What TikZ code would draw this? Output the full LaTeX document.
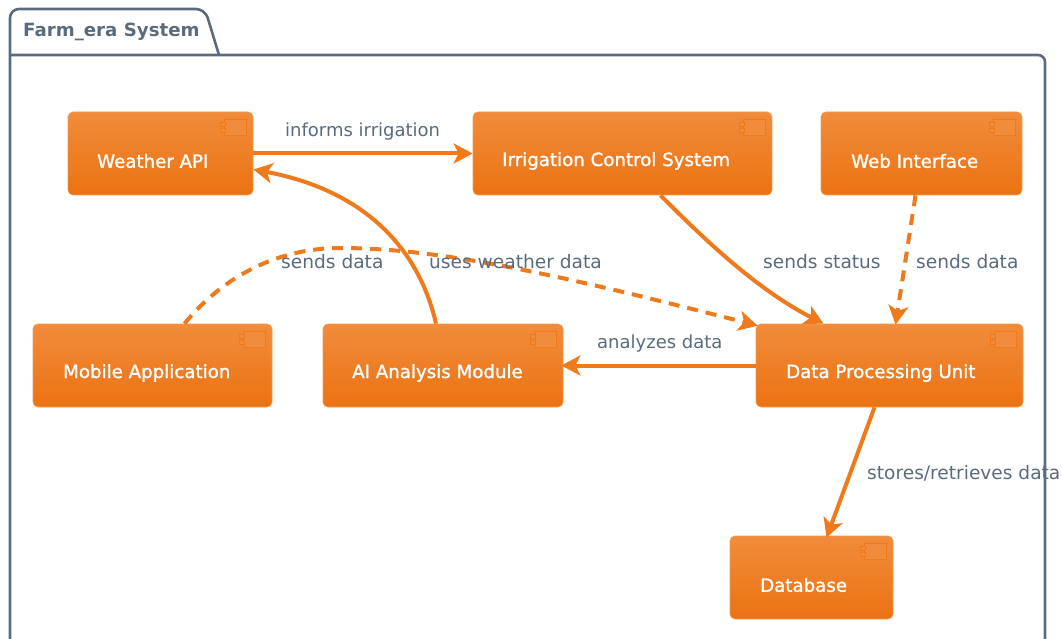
\documentclass[tikz,border=0pt]{standalone}
\usepackage{fontspec}
\setmainfont{DejaVu Sans}
\newfontfamily\compfont[FakeBold=1.4]{DejaVu Sans}
\usetikzlibrary{arrows.meta,calc}
\definecolor{orTop}{HTML}{F08C3C}
\definecolor{orBot}{HTML}{EC7211}
\definecolor{orEdge}{HTML}{F29A50}
\definecolor{orLine}{HTML}{EE7A1C}
\definecolor{slate}{HTML}{5A6B7D}
\tikzset{
  comp/.style={rounded corners=5pt,top color=orTop,bottom color=orBot,draw=orEdge,line width=.7pt,inner sep=0pt,minimum height=83pt},
  complabel/.style={text=white,font=\fontsize{18.2}{20}\selectfont\compfont,inner sep=0pt,anchor=west},
  lbl/.style={text=slate,font=\fontsize{18}{20}\selectfont,inner sep=0pt,anchor=west},
  lblw/.style={lbl,font=\fontsize{18.6}{20}\selectfont},
  conn/.style={draw=orLine,line width=4pt,-{Stealth[length=19pt,width=20pt,inset=5pt]}},
  dconn/.style={conn,dash pattern=on 11pt off 8pt},
  icon/.style={draw=orLine,line width=1pt,fill=orTop},
  frame/.style={draw=slate,line width=2.6pt,line join=round},
}
\newcommand{\compicon}[1]{%
  \fill[icon] ($(#1.north east)+(-29,8)$) rectangle ($(#1.north east)+(-7,24)$);
  \fill[icon] ($(#1.north east)+(-33,11)$) rectangle ($(#1.north east)+(-28,15)$);
  \fill[icon] ($(#1.north east)+(-33,17)$) rectangle ($(#1.north east)+(-28,21)$);
}
\begin{document}
\begin{tikzpicture}[x=1pt,y=-1pt]
\useasboundingbox (0,0) rectangle (1062,639);
\draw[frame,rounded corners=9pt] (10,645) -- (10,55) -- (10,9) -- (205,9) -- (219,55);
\draw[frame,rounded corners=7pt] (10,55) -- (1045,55) -- (1045,645);
\node[lbl,text=slate,font=\fontsize{18.2}{20}\selectfont\bfseries] (title) at (23,32) {Farm\_era System};

\node[comp,minimum width=185pt] (weather) at (160.5,153.5) {};
\node[comp,minimum width=299pt] (irrig) at (622.5,153.5) {};
\node[comp,minimum width=201pt] (web) at (921.5,153.5) {};
\node[comp,minimum width=239pt] (mobile) at (152.5,365.5) {};
\node[comp,minimum width=240pt] (ai) at (443,365.5) {};
\node[comp,minimum width=267pt] (data) at (889.5,365.5) {};
\node[comp,minimum width=163pt] (db) at (811.5,577.5) {};

\compicon{weather}\compicon{irrig}\compicon{web}\compicon{mobile}\compicon{ai}\compicon{data}\compicon{db}

\node[complabel] (tw) at (97,161) {Weather API};
\node[complabel] (ti) at (502,161) {Irrigation Control System};
\node[complabel] (tb) at (851,161) {Web Interface};
\node[complabel] (tm) at (63,373) {Mobile Application};
\node[complabel] (ta) at (352,373) {AI Analysis Module};
\node[complabel] (td) at (786,373) {Data Processing Unit};
\node[complabel] (tdb) at (760,585) {Database};

\draw[conn] (weather) -- (irrig);
\draw[conn] ($(ai.north)+(-7,0)$) .. controls ($(ai.north)+(-25,-79)$) and ($(weather.east)+(107,36)$) .. ($(weather.east)+(0,16)$);
\coordinate (mid) at (340,248);
\draw[dconn] ($(mobile.north)+(32,0)$) .. controls ($(mobile.north)+(72,-49)$) and (280,248) .. (mid) .. controls (440,248) and (560,275) .. ($(data.north west)+(2,2)$);
\draw[conn] ($(irrig.south)+(38,0)$) .. controls ($(irrig.south)+(78,40)$) and ($(irrig.south)+(132,93)$) .. ($(data.north)+(-66,0)$);
\draw[dconn] ($(web.south)+(-6,0)$) -- ($(data.north)+(6,1)$);
\draw[conn] ($(data.west)+(0,0)$) -- ($(ai.east)+(-2,0)$);
\draw[conn] ($(data.south)+(-15,0)$) -- ($(db.north)+(15,2)$);

\node[lbl] (l1) at (285,132) {informs irrigation};
\node[lblw] (l2) at (763,262) {sends status};
\node[lblw] (l3) at (916,262) {sends data};
\node[lblw] (l4) at (281,262) {sends data};
\node[lblw] (l5) at (429,262) {uses weather data};
\node[lbl] (l6) at (597,344) {analyzes data};
\node[lblw] (l7) at (867,473) {stores/retrieves data};
\end{tikzpicture}
\end{document}
